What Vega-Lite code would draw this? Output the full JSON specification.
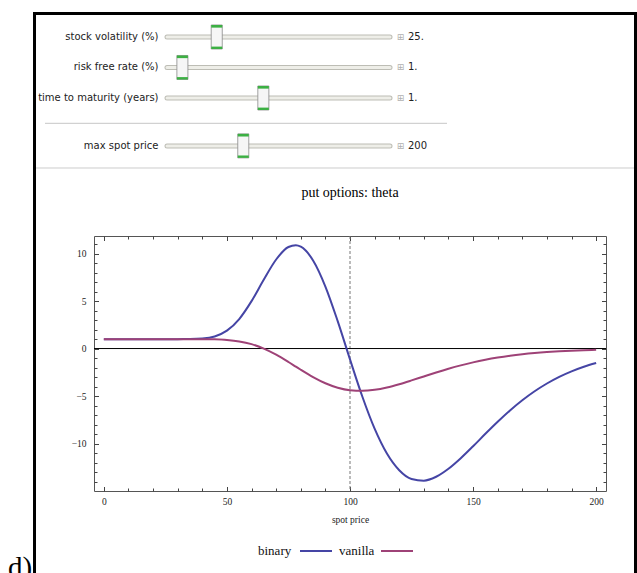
{
  "$schema": "https://vega.github.io/schema/vega-lite/v6.json",
  "width": 512,
  "height": 255,
  "autosize": {"type": "none"},
  "padding": {"left": 94, "top": 236, "right": 31, "bottom": 82},
  "background": "white",
  "config": {
    "view": {"stroke": "#555", "strokeWidth": 1},
    "axis": {"grid": false, "domain": false, "labelFont": "Liberation Serif", "labelFontSize": 9.5, "labelColor": "#222", "tickColor": "#444", "tickWidth": 1, "titleFont": "Liberation Serif", "titleFontSize": 9.5, "titleFontWeight": "normal", "titleColor": "#222"}
  },
  "datasets": {
    "curves": [
      {"S": 0, "theta": 0.99, "option": "binary"}, {"S": 5, "theta": 0.99, "option": "binary"}, {"S": 10, "theta": 0.99, "option": "binary"}, {"S": 15, "theta": 0.99, "option": "binary"}, {"S": 20, "theta": 0.99, "option": "binary"}, {"S": 25, "theta": 0.99, "option": "binary"}, {"S": 30, "theta": 0.991, "option": "binary"}, {"S": 35, "theta": 0.998, "option": "binary"}, {"S": 40, "theta": 1.052, "option": "binary"}, {"S": 45, "theta": 1.273, "option": "binary"}, {"S": 50, "theta": 1.883, "option": "binary"}, {"S": 55, "theta": 3.108, "option": "binary"}, {"S": 60, "theta": 4.99, "option": "binary"}, {"S": 65, "theta": 7.265, "option": "binary"}, {"S": 70, "theta": 9.377, "option": "binary"}, {"S": 75, "theta": 10.69, "option": "binary"}, {"S": 78, "theta": 10.88, "option": "binary"}, {"S": 80, "theta": 10.72, "option": "binary"}, {"S": 85, "theta": 9.278, "option": "binary"}, {"S": 90, "theta": 6.532, "option": "binary"}, {"S": 95, "theta": 2.883, "option": "binary"}, {"S": 100, "theta": -1.144, "option": "binary"}, {"S": 105, "theta": -5.047, "option": "binary"}, {"S": 110, "theta": -8.432, "option": "binary"}, {"S": 115, "theta": -11.052, "option": "binary"}, {"S": 120, "theta": -12.81, "option": "binary"}, {"S": 125, "theta": -13.73, "option": "binary"}, {"S": 130, "theta": -13.91, "option": "binary"}, {"S": 135, "theta": -13.5, "option": "binary"}, {"S": 140, "theta": -12.66, "option": "binary"}, {"S": 145, "theta": -11.55, "option": "binary"}, {"S": 150, "theta": -10.29, "option": "binary"}, {"S": 155, "theta": -8.98, "option": "binary"}, {"S": 160, "theta": -7.71, "option": "binary"}, {"S": 165, "theta": -6.52, "option": "binary"}, {"S": 170, "theta": -5.45, "option": "binary"}, {"S": 175, "theta": -4.5, "option": "binary"}, {"S": 180, "theta": -3.68, "option": "binary"}, {"S": 185, "theta": -2.98, "option": "binary"}, {"S": 190, "theta": -2.4, "option": "binary"}, {"S": 195, "theta": -1.915, "option": "binary"}, {"S": 200, "theta": -1.52, "option": "binary"},
      {"S": 0, "theta": 0.99, "option": "vanilla"}, {"S": 5, "theta": 0.99, "option": "vanilla"}, {"S": 10, "theta": 0.99, "option": "vanilla"}, {"S": 15, "theta": 0.99, "option": "vanilla"}, {"S": 20, "theta": 0.99, "option": "vanilla"}, {"S": 25, "theta": 0.99, "option": "vanilla"}, {"S": 30, "theta": 0.99, "option": "vanilla"}, {"S": 35, "theta": 0.9895, "option": "vanilla"}, {"S": 40, "theta": 0.986, "option": "vanilla"}, {"S": 45, "theta": 0.967, "option": "vanilla"}, {"S": 50, "theta": 0.905, "option": "vanilla"}, {"S": 55, "theta": 0.753, "option": "vanilla"}, {"S": 60, "theta": 0.461, "option": "vanilla"}, {"S": 65, "theta": -0.008, "option": "vanilla"}, {"S": 70, "theta": -0.649, "option": "vanilla"}, {"S": 75, "theta": -1.418, "option": "vanilla"}, {"S": 78, "theta": -1.908, "option": "vanilla"}, {"S": 80, "theta": -2.234, "option": "vanilla"}, {"S": 85, "theta": -3.007, "option": "vanilla"}, {"S": 90, "theta": -3.656, "option": "vanilla"}, {"S": 95, "theta": -4.125, "option": "vanilla"}, {"S": 100, "theta": -4.391, "option": "vanilla"}, {"S": 105, "theta": -4.456, "option": "vanilla"}, {"S": 110, "theta": -4.345, "option": "vanilla"}, {"S": 115, "theta": -4.098, "option": "vanilla"}, {"S": 120, "theta": -3.755, "option": "vanilla"}, {"S": 125, "theta": -3.356, "option": "vanilla"}, {"S": 130, "theta": -2.936, "option": "vanilla"}, {"S": 135, "theta": -2.52, "option": "vanilla"}, {"S": 140, "theta": -2.127, "option": "vanilla"}, {"S": 145, "theta": -1.77, "option": "vanilla"}, {"S": 150, "theta": -1.454, "option": "vanilla"}, {"S": 155, "theta": -1.181, "option": "vanilla"}, {"S": 160, "theta": -0.95, "option": "vanilla"}, {"S": 165, "theta": -0.757, "option": "vanilla"}, {"S": 170, "theta": -0.599, "option": "vanilla"}, {"S": 175, "theta": -0.47, "option": "vanilla"}, {"S": 180, "theta": -0.367, "option": "vanilla"}, {"S": 185, "theta": -0.285, "option": "vanilla"}, {"S": 190, "theta": -0.22, "option": "vanilla"}, {"S": 195, "theta": -0.169, "option": "vanilla"}, {"S": 200, "theta": -0.13, "option": "vanilla"}
    ],
    "sliders": [
      {"label": "stock volatility (%)", "row": 1, "pos": 0.223, "value": "25."},
      {"label": "risk free rate (%)", "row": 2, "pos": 0.069, "value": "1."},
      {"label": "time to maturity (years)", "row": 3, "pos": 0.432, "value": "1."},
      {"label": "max spot price", "row": 4.57, "pos": 0.342, "value": "200"}
    ]
  },
  "resolve": {"scale": {"x": "independent", "y": "independent"}, "axis": {"x": "independent", "y": "independent"}},
  "layer": [
    {
      "layer": [
        {"data": {"values": [{}]}, "mark": {"type": "rule", "color": "black", "strokeWidth": 3, "strokeCap": "square"},
         "encoding": {"x": {"datum": -0.5942, "scale": {"domain": [-0.3274, 1.9686], "nice": false, "zero": false}, "axis": null}, "x2": {"datum": 2.1009}, "y": {"datum": 0.2295, "scale": {"domain": [7.525, 15.886], "nice": false, "zero": false, "reverse": true}, "axis": null}}},
        {"data": {"values": [{}]}, "mark": {"type": "rule", "color": "black", "strokeWidth": 3, "strokeCap": "square"},
         "encoding": {"x": {"datum": -0.5942, "scale": {"domain": [-0.3274, 1.9686], "nice": false, "zero": false}, "axis": null}, "y": {"datum": 0.2295, "scale": {"domain": [7.525, 15.886], "nice": false, "zero": false, "reverse": true}, "axis": null}, "y2": {"datum": 19}}},
        {"data": {"values": [{}]}, "mark": {"type": "rule", "color": "black", "strokeWidth": 3, "strokeCap": "square"},
         "encoding": {"x": {"datum": 2.1009, "scale": {"domain": [-0.3274, 1.9686], "nice": false, "zero": false}, "axis": null}, "y": {"datum": 0.2295, "scale": {"domain": [7.525, 15.886], "nice": false, "zero": false, "reverse": true}, "axis": null}, "y2": {"datum": 19}}},
        {"data": {"values": [{}]}, "mark": {"type": "rule", "color": "#c6c6c6", "strokeWidth": 1},
         "encoding": {"x": {"datum": -0.5471, "scale": {"domain": [-0.3274, 1.9686], "nice": false, "zero": false}, "axis": null}, "x2": {"datum": 1.2556}, "y": {"datum": 3.83, "scale": {"domain": [7.525, 15.886], "nice": false, "zero": false, "reverse": true}, "axis": null}}},
        {"data": {"values": [{}]}, "mark": {"type": "rule", "color": "#cccccc", "strokeWidth": 1},
         "encoding": {"x": {"datum": -0.5874, "scale": {"domain": [-0.3274, 1.9686], "nice": false, "zero": false}, "axis": null}, "x2": {"datum": 2.0942}, "y": {"datum": 5.295, "scale": {"domain": [7.525, 15.886], "nice": false, "zero": false, "reverse": true}, "axis": null}}},
        {"data": {"values": [{}]}, "mark": {"type": "text", "font": "Liberation Serif", "fontSize": 14, "color": "black", "align": "center", "baseline": "alphabetic"},
         "encoding": {"x": {"datum": 0.8206, "scale": {"domain": [-0.3274, 1.9686], "nice": false, "zero": false}, "axis": null}, "y": {"datum": 6.246, "scale": {"domain": [7.525, 15.886], "nice": false, "zero": false, "reverse": true}, "axis": null}, "text": {"value": "put options: theta"}}},
        {"data": {"values": [{}]}, "mark": {"type": "text", "font": "Liberation Serif", "fontSize": 29, "color": "black", "align": "left", "baseline": "alphabetic"},
         "encoding": {"x": {"datum": -0.713, "scale": {"domain": [-0.3274, 1.9686], "nice": false, "zero": false}, "axis": null}, "y": {"datum": 18.72, "scale": {"domain": [7.525, 15.886], "nice": false, "zero": false, "reverse": true}, "axis": null}, "text": {"value": "d)"}}},
        {"data": {"name": "sliders"}, "mark": {"type": "rule", "color": "#bdbdb5", "strokeWidth": 5, "strokeCap": "round"},
         "encoding": {"x": {"datum": 0, "scale": {"domain": [-0.3274, 1.9686], "nice": false, "zero": false}, "axis": null}, "x2": {"datum": 1}, "y": {"field": "row", "type": "quantitative", "scale": {"domain": [7.525, 15.886], "nice": false, "zero": false, "reverse": true}, "axis": null}}},
        {"data": {"name": "sliders"}, "mark": {"type": "rule", "color": "#eeeee8", "strokeWidth": 3, "strokeCap": "round"},
         "encoding": {"x": {"datum": 0, "scale": {"domain": [-0.3274, 1.9686], "nice": false, "zero": false}, "axis": null}, "x2": {"datum": 1}, "y": {"field": "row", "type": "quantitative", "scale": {"domain": [7.525, 15.886], "nice": false, "zero": false, "reverse": true}, "axis": null}}},
        {"data": {"name": "sliders"}, "mark": {"type": "text", "font": "DejaVu Sans", "fontSize": 10, "color": "#222", "align": "right", "baseline": "middle"},
         "encoding": {"x": {"datum": -0.0381, "scale": {"domain": [-0.3274, 1.9686], "nice": false, "zero": false}, "axis": null}, "y": {"field": "row", "type": "quantitative", "scale": {"domain": [7.525, 15.886], "nice": false, "zero": false, "reverse": true}, "axis": null}, "text": {"field": "label"}}},
        {"data": {"name": "sliders"}, "mark": {"type": "point", "shape": "M-0.46,-1 L0.46,-1 L0.46,1 L-0.46,1 Z", "size": 576, "filled": true, "fill": "#f6f6f6", "stroke": "#8a8a8a", "strokeWidth": 0.8, "opacity": 1},
         "encoding": {"x": {"field": "pos", "type": "quantitative", "scale": {"domain": [-0.3274, 1.9686], "nice": false, "zero": false}, "axis": null}, "y": {"field": "row", "type": "quantitative", "scale": {"domain": [7.525, 15.886], "nice": false, "zero": false, "reverse": true}, "axis": null}}},
        {"data": {"name": "sliders"}, "mark": {"type": "point", "shape": "M-0.46,-1 L0.46,-1 L0.46,-0.78 L-0.46,-0.78 Z", "size": 576, "filled": true, "fill": "#3cb043", "strokeWidth": 0, "opacity": 1},
         "encoding": {"x": {"field": "pos", "type": "quantitative", "scale": {"domain": [-0.3274, 1.9686], "nice": false, "zero": false}, "axis": null}, "y": {"field": "row", "type": "quantitative", "scale": {"domain": [7.525, 15.886], "nice": false, "zero": false, "reverse": true}, "axis": null}}},
        {"data": {"name": "sliders"}, "mark": {"type": "point", "shape": "M-0.46,0.8 L0.46,0.8 L0.46,1 L-0.46,1 Z", "size": 576, "filled": true, "fill": "#3cb043", "strokeWidth": 0, "opacity": 1},
         "encoding": {"x": {"field": "pos", "type": "quantitative", "scale": {"domain": [-0.3274, 1.9686], "nice": false, "zero": false}, "axis": null}, "y": {"field": "row", "type": "quantitative", "scale": {"domain": [7.525, 15.886], "nice": false, "zero": false, "reverse": true}, "axis": null}}},
        {"data": {"name": "sliders"}, "mark": {"type": "text", "font": "DejaVu Sans", "fontSize": 9, "color": "#b0b0b0", "align": "center", "baseline": "middle"},
         "encoding": {"x": {"datum": 1.0471, "scale": {"domain": [-0.3274, 1.9686], "nice": false, "zero": false}, "axis": null}, "y": {"field": "row", "type": "quantitative", "scale": {"domain": [7.525, 15.886], "nice": false, "zero": false, "reverse": true}, "axis": null}, "text": {"value": "⊞"}}},
        {"data": {"name": "sliders"}, "mark": {"type": "text", "font": "DejaVu Sans", "fontSize": 10, "color": "#222", "align": "left", "baseline": "middle"},
         "encoding": {"x": {"datum": 1.0807, "scale": {"domain": [-0.3274, 1.9686], "nice": false, "zero": false}, "axis": null}, "y": {"field": "row", "type": "quantitative", "scale": {"domain": [7.525, 15.886], "nice": false, "zero": false, "reverse": true}, "axis": null}, "text": {"field": "value"}}}
      ]
    },
    {"data": {"name": "curves"}, "mark": {"type": "point", "opacity": 0},
     "encoding": {"x": {"field": "S", "type": "quantitative", "scale": {"domain": [-4, 204], "nice": false, "zero": false}, "axis": {"orient": "bottom", "values": [0, 50, 100, 150, 200], "labels": false, "tickSize": -4.5, "title": null}},
                  "y": {"field": "theta", "type": "quantitative", "scale": {"domain": [-15, 11.85], "nice": false, "zero": false}, "axis": {"orient": "left", "values": [-10, -5, 0, 5, 10], "labels": false, "tickSize": -4.5, "title": null}}}},
    {"data": {"name": "curves"}, "mark": {"type": "point", "opacity": 0},
     "encoding": {"x": {"field": "S", "type": "quantitative", "scale": {"domain": [-4, 204], "nice": false, "zero": false}, "axis": {"orient": "bottom", "values": [10, 20, 30, 40, 60, 70, 80, 90, 110, 120, 130, 140, 160, 170, 180, 190], "labels": false, "tickSize": -3, "title": null}},
                  "y": {"field": "theta", "type": "quantitative", "scale": {"domain": [-15, 11.85], "nice": false, "zero": false}, "axis": {"orient": "left", "values": [-14, -13, -12, -11, -9, -8, -7, -6, -4, -3, -2, -1, 1, 2, 3, 4, 6, 7, 8, 9, 11], "labels": false, "tickSize": -3, "title": null}}}},
    {"data": {"name": "curves"}, "mark": {"type": "point", "opacity": 0},
     "encoding": {"x": {"field": "S", "type": "quantitative", "scale": {"domain": [-4, 204], "nice": false, "zero": false}, "axis": {"orient": "top", "values": [0, 50, 100, 150, 200], "labels": false, "tickSize": -4.5, "title": null}},
                  "y": {"field": "theta", "type": "quantitative", "scale": {"domain": [-15, 11.85], "nice": false, "zero": false}, "axis": {"orient": "right", "values": [-10, -5, 0, 5, 10], "labels": false, "tickSize": -4.5, "title": null}}}},
    {"data": {"name": "curves"}, "mark": {"type": "point", "opacity": 0},
     "encoding": {"x": {"field": "S", "type": "quantitative", "scale": {"domain": [-4, 204], "nice": false, "zero": false}, "axis": {"orient": "top", "values": [10, 20, 30, 40, 60, 70, 80, 90, 110, 120, 130, 140, 160, 170, 180, 190], "labels": false, "tickSize": -3, "title": null}},
                  "y": {"field": "theta", "type": "quantitative", "scale": {"domain": [-15, 11.85], "nice": false, "zero": false}, "axis": {"orient": "right", "values": [-14, -13, -12, -11, -9, -8, -7, -6, -4, -3, -2, -1, 1, 2, 3, 4, 6, 7, 8, 9, 11], "labels": false, "tickSize": -3, "title": null}}}},
    {"data": {"values": [{}]}, "mark": {"type": "rule", "color": "#777", "strokeDash": [3, 2], "strokeWidth": 1},
     "encoding": {"x": {"datum": 100, "scale": {"domain": [-4, 204], "nice": false, "zero": false}, "axis": null}}},
    {"data": {"values": [{}]}, "mark": {"type": "rule", "color": "black", "strokeWidth": 1},
     "encoding": {"y": {"datum": 0, "scale": {"domain": [-15, 11.85], "nice": false, "zero": false}, "axis": null}}},
    {"data": {"name": "curves"}, "mark": {"type": "line", "strokeWidth": 2, "interpolate": "monotone"},
     "encoding": {
       "x": {"field": "S", "type": "quantitative", "scale": {"domain": [-4, 204], "nice": false, "zero": false}, "axis": {"orient": "bottom", "values": [0, 50, 100, 150, 200], "ticks": false, "labelPadding": 5, "title": "spot price", "titlePadding": 9}},
       "y": {"field": "theta", "type": "quantitative", "scale": {"domain": [-15, 11.85], "nice": false, "zero": false}, "axis": {"orient": "left", "values": [-10, -5, 0, 5, 10], "ticks": false, "labelPadding": 8, "title": null}},
       "color": {"field": "option", "type": "nominal", "scale": {"domain": ["binary", "vanilla"], "range": ["#4545a5", "#9e4277"]},
                 "legend": {"orient": "none", "legendX": 162, "legendY": 298, "direction": "horizontal", "title": null, "labelFont": "Liberation Serif", "labelFontSize": 13, "labelColor": "#111", "symbolType": "stroke", "symbolSize": 1024, "symbolStrokeWidth": 2, "symbolOffset": 43, "labelOffset": -75, "columnPadding": 1, "padding": 0}}
     }}
  ]
}
